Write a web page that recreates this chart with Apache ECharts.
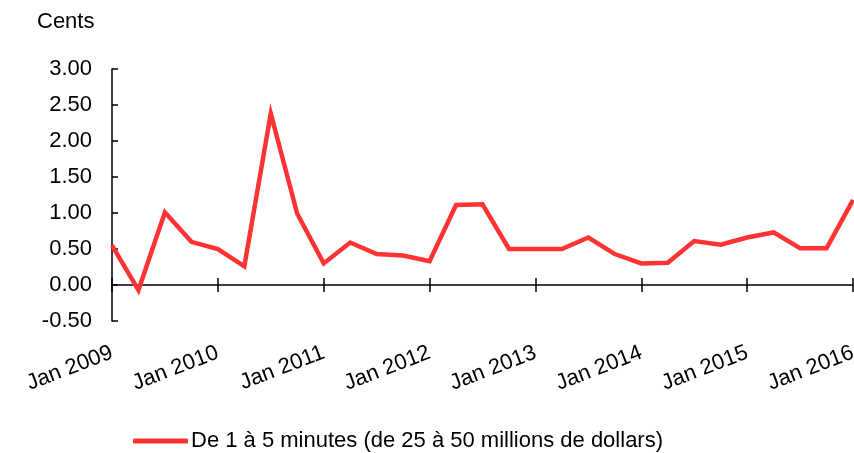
<!DOCTYPE html>
<html>
<head>
<meta charset="utf-8">
<script src="https://cdn.jsdelivr.net/npm/echarts@6/dist/echarts.min.js"></script>
<style>html,body{margin:0;padding:0;background:#fff}#c{width:854px;height:453px}</style>
</head>
<body>
<div id="c"></div>
<script>
var categories = [
  "Jan 2009","Apr 2009","Jul 2009","Oct 2009",
  "Jan 2010","Apr 2010","Jul 2010","Oct 2010",
  "Jan 2011","Apr 2011","Jul 2011","Oct 2011",
  "Jan 2012","Apr 2012","Jul 2012","Oct 2012",
  "Jan 2013","Apr 2013","Jul 2013","Oct 2013",
  "Jan 2014","Apr 2014","Jul 2014","Oct 2014",
  "Jan 2015","Apr 2015","Jul 2015","Oct 2015",
  "Jan 2016"
];
var seriesName = "De 1 à 5 minutes (de 25 à 50 millions de dollars)";
var values = [
  0.55, -0.07, 1.01, 0.60,
  0.50, 0.26, 2.38, 0.99,
  0.30, 0.59, 0.43, 0.41,
  0.33, 1.11, 1.12, 0.50,
  0.50, 0.50, 0.66, 0.43,
  0.30, 0.31, 0.61, 0.56,
  0.66, 0.73, 0.51, 0.51,
  1.18
];
var yTitle = "Cents";

var chart = echarts.init(document.getElementById('c'), null, {renderer: 'canvas'});
var font = "'Liberation Sans', Arial, sans-serif";
chart.setOption({
  animation: false,
  title: {
    text: yTitle, left: 37, top: 11, padding: 0,
    textStyle: {fontFamily: font, fontSize: 22, fontWeight: 'normal', color: '#000'}
  },
  grid: {left: 112, right: 1, top: 69, bottom: 132, containLabel: false, outerBoundsMode: 'none'},
  legend: {
    data: [seriesName], left: 128, top: 425,
    icon: 'roundRect', itemWidth: 55, itemHeight: 5, itemGap: 10,
    textStyle: {fontFamily: font, fontSize: 22, color: '#000', padding: [0,0,0,-2]}
  },
  xAxis: [
    {
      type: 'category', data: categories, boundaryGap: false, position: 'bottom',
      axisLine: {onZero: true, lineStyle: {color: '#000', width: 1.5}},
      axisTick: {show: true, inside: false, length: 7, interval: 3, lineStyle: {color: '#000', width: 1.5}},
      axisLabel: {show: false}, splitLine: {show: false}
    },
    {
      type: 'category', data: categories, boundaryGap: false, position: 'bottom', offset: -36,
      axisLine: {show: false, onZero: false},
      axisTick: {show: true, inside: true, length: 7, interval: 3, lineStyle: {color: '#000', width: 1.5}},
      axisLabel: {show: true, interval: 3, rotate: 21, margin: 67, fontFamily: font, fontSize: 22, color: '#000'},
      splitLine: {show: false}
    }
  ],
  yAxis: {
    type: 'value', min: -0.5, max: 3, interval: 0.5,
    axisLine: {show: true, lineStyle: {color: '#000', width: 1.5}},
    axisTick: {show: true, inside: true, length: 6, lineStyle: {color: '#000', width: 1.5}},
    axisLabel: {margin: 20, fontFamily: font, fontSize: 22, color: '#000',
      formatter: function (v) { return v.toFixed(2); }},
    splitLine: {show: false}
  },
  series: [{
    name: seriesName, type: 'line', data: values, xAxisIndex: 0,
    symbol: 'none', lineStyle: {color: '#FF3333', width: 4.5, join: 'miter'},
    itemStyle: {color: '#FF3333'}
  }]
});
</script>
</body>
</html>
